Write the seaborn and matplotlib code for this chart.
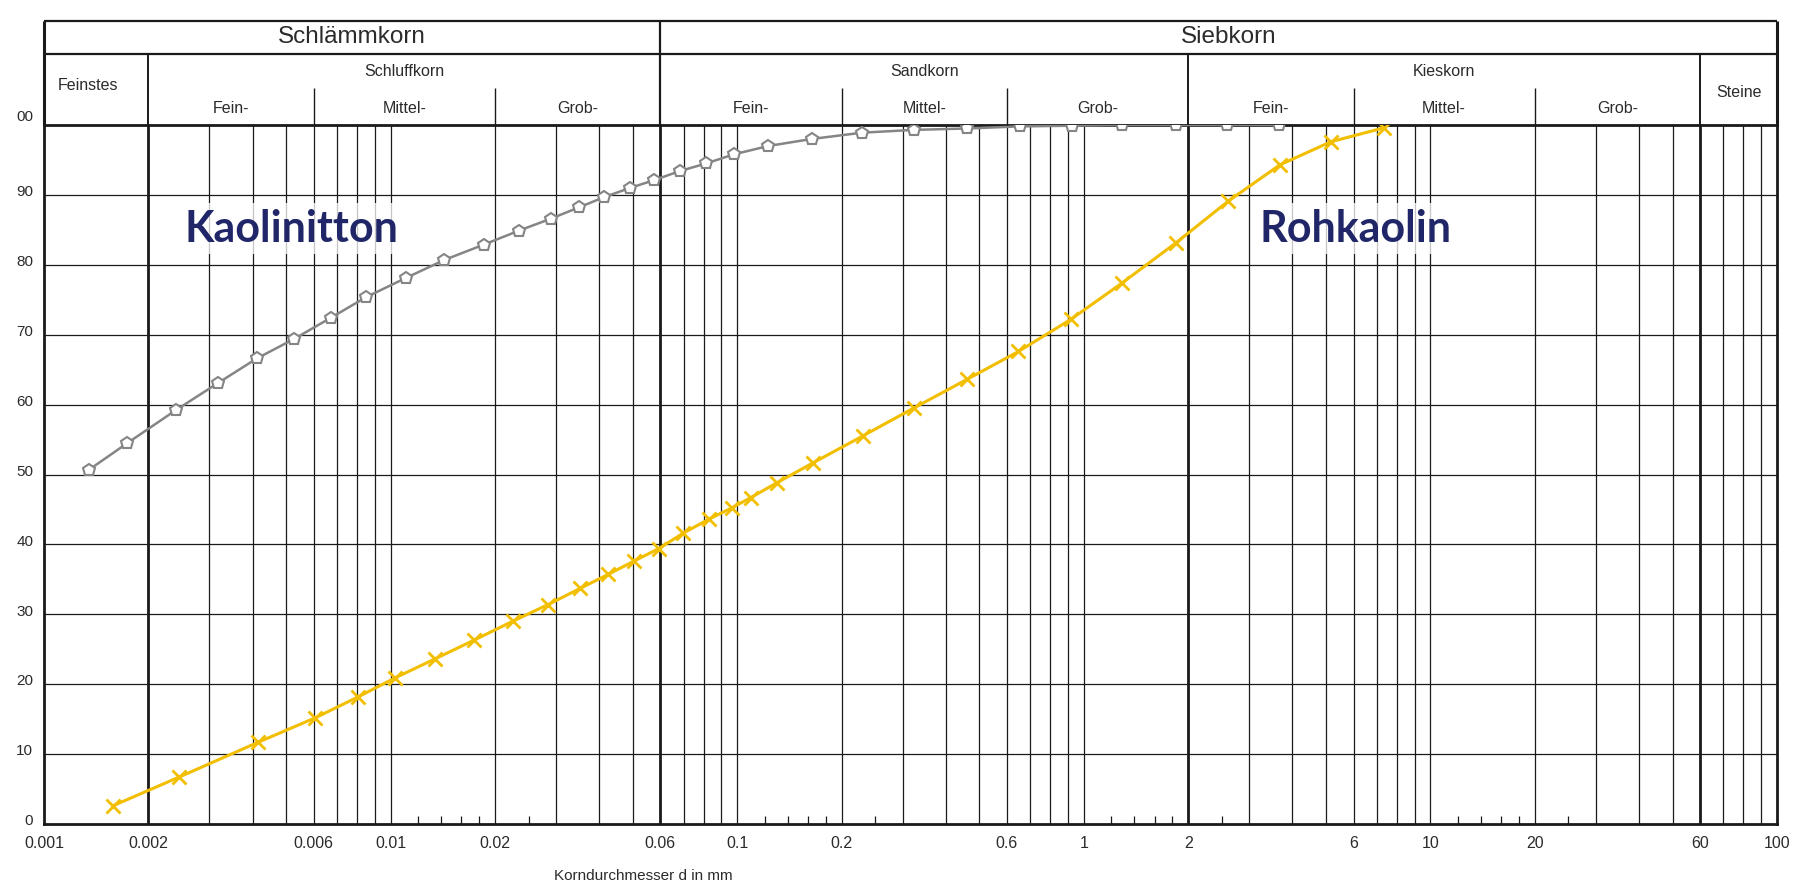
import numpy as np
import seaborn as sns
import matplotlib.pyplot as plt
from matplotlib.ticker import NullLocator

# Sieblinie: grain diameter (mm) vs. passing (%)
kaolinitton_d = [0.00135, 0.00174, 0.0024, 0.00318, 0.00411, 0.00527, 0.00671, 0.00852,
                 0.01105, 0.0143, 0.0186, 0.0235, 0.029, 0.0349, 0.0414, 0.0491, 0.0575,
                 0.0682, 0.0814, 0.0978, 0.123, 0.164, 0.229, 0.323, 0.46, 0.653, 0.924,
                 1.29, 1.84, 2.59, 3.65]
kaolinitton_p = [50.7, 54.5, 59.2, 63.1, 66.6, 69.4, 72.4, 75.4, 78.1, 80.7, 82.9, 84.9,
                 86.6, 88.2, 89.7, 91.0, 92.1, 93.4, 94.5, 95.8, 97.0, 98.0, 98.9, 99.3,
                 99.5, 99.8, 99.9, 100, 100, 100, 100]

rohkaolin_d = [0.00158, 0.00245, 0.00415, 0.00607, 0.00807, 0.0103, 0.0134, 0.0174,
               0.0225, 0.0285, 0.0352, 0.0424, 0.0503, 0.0594, 0.0698, 0.0828, 0.0963,
               0.1095, 0.130, 0.166, 0.230, 0.323, 0.460, 0.648, 0.918, 1.29, 1.84,
               2.61, 3.68, 5.16, 7.35]
rohkaolin_p = [2.6, 6.7, 11.7, 15.2, 18.2, 20.9, 23.6, 26.3, 29.0, 31.4, 33.7, 35.7,
               37.6, 39.4, 41.6, 43.6, 45.2, 46.7, 48.8, 51.7, 55.5, 59.5, 63.6, 67.6,
               72.2, 77.4, 83.1, 89.1, 94.3, 97.6, 99.6]

x_ticks = [0.001, 0.002, 0.006, 0.01, 0.02, 0.06, 0.1, 0.2, 0.6, 1, 2, 6, 10, 20, 60, 100]
x_labels = ["0.001", "0.002", "0.006", "0.01", "0.02", "0.06", "0.1", "0.2", "0.6",
            "1", "2", "6", "10", "20", "60", "100"]
y_ticks = [0, 10, 20, 30, 40, 50, 60, 70, 80, 90, 100]
y_labels = ["0", "10", "20", "30", "40", "50", "60", "70", "80", "90", "00"]

# header classification (DIN 4022 style)
main_bands = [("Schlämmkorn", 0.001, 0.06), ("Siebkorn", 0.06, 100)]
group_bands = [("Feinstes", 0.001, 0.002), ("Schluffkorn", 0.002, 0.06),
               ("Sandkorn", 0.06, 2), ("Kieskorn", 2, 60), ("Steine", 60, 100)]
sub_bands = [("Fein-", 0.002, 0.006), ("Mittel-", 0.006, 0.02), ("Grob-", 0.02, 0.06),
             ("Fein-", 0.06, 0.2), ("Mittel-", 0.2, 0.6), ("Grob-", 0.6, 2),
             ("Fein-", 2, 6), ("Mittel-", 6, 20), ("Grob-", 20, 60)]

sns.set_theme(style="white")
plt.rcParams["font.family"] = ["Liberation Sans", "DejaVu Sans"]

line_c = "#1a1a1a"
text_c = "#2b2b2b"
gray_c = "#858585"
yellow_c = "#F2BE00"
navy_c = "#202668"

W, H = 1800, 885
fig = plt.figure(figsize=(W / 100, H / 100), dpi=100)
fig.patch.set_facecolor("white")

x0, x1 = 44, 1777
y_top, y_bot, y_head = 125, 824, 21
ax = fig.add_axes([x0 / W, (H - y_bot) / H, (x1 - x0) / W, (y_bot - y_top) / H])
hax = fig.add_axes([x0 / W, (H - y_top) / H, (x1 - x0) / W, (y_top - y_head) / H])

# ---- main grid ----
ax.set_xscale("log")
ax.set_xlim(0.001, 100)
ax.set_ylim(0, 100)
thick = [0.002, 0.06, 2, 60]
for base in [0.001, 0.01, 0.1, 1, 10]:
    for m in range(2, 10 if base == 10 else 11):
        v = base * m
        is_thick = any(np.isclose(v, t) for t in thick)
        ax.axvline(v, color=line_c, lw=2.0 if is_thick else 0.9, zorder=1)
    if base >= 0.01:
        ax.vlines([base * m for m in [1.2, 1.4, 1.6, 1.8, 2.5]], 0, 1.1,
                  color=line_c, lw=0.9, zorder=1)
for v in y_ticks[1:-1]:
    ax.axhline(v, color=line_c, lw=0.9, zorder=1)
for s in ax.spines.values():
    s.set_color(line_c)
    s.set_linewidth(2.0)
    s.set_visible(True)

ax.xaxis.set_minor_locator(NullLocator())
ax.set_xticks(x_ticks, x_labels)
ax.tick_params(axis="x", length=0, pad=9, labelsize=11.5, labelcolor=text_c)
ax.set_yticks([])
for v, lab in zip(y_ticks, y_labels):
    ax.text(-0.0062, v + (1.2 if v == 100 else 0.4), lab, transform=ax.get_yaxis_transform(),
            ha="right", va="center", fontsize=11, color=text_c)
ax.set_xlabel("")
ax.set_ylabel("")

# ---- curves ----
sns.lineplot(x=kaolinitton_d, y=kaolinitton_p, ax=ax, sort=False, color=gray_c,
             lw=1.8, marker="p", markersize=9, markerfacecolor="white",
             markeredgecolor=gray_c, markeredgewidth=1.5, zorder=3)
sns.lineplot(x=rohkaolin_d, y=rohkaolin_p, ax=ax, sort=False, color=yellow_c,
             lw=2.2, marker="x", markersize=10, markeredgecolor=yellow_c,
             markeredgewidth=2.0, zorder=3)

box = dict(facecolor="white", alpha=0.75, edgecolor="none", pad=4)
ax.text(0.00254, 83.3, "Kaolinitton", ha="left", va="baseline", fontsize=31,
        fontweight="bold", family=["Lato", "DejaVu Sans"], color=navy_c, bbox=box, zorder=2)
ax.text(3.22, 83.3, "Rohkaolin", ha="left", va="baseline", fontsize=31,
        fontweight="bold", family=["Lato", "DejaVu Sans"], color=navy_c, bbox=box, zorder=2)

fig.text(643 / W, (H - 876) / H, "Korndurchmesser d in mm", ha="center", va="center",
         fontsize=11, color=text_c)

# ---- header ----
hax.set_xscale("log")
hax.set_xlim(0.001, 100)
hax.set_ylim(0, 1)
hax.axis("off")
y_mid_line, y_sub_line = 0.683, 0.356
hax.hlines([1.0, y_mid_line], 0.001, 100, color=line_c, lw=1.6, clip_on=False)
hax.vlines([0.001, 100], 0, 1, color=line_c, lw=2.2, clip_on=False)
hax.vlines([b[2] for b in main_bands[:-1]], 0, 1, color=line_c, lw=1.6, clip_on=False)
hax.vlines([b[2] for b in group_bands[:-1] if b[2] not in [m[2] for m in main_bands]],
           0, y_mid_line, color=line_c, lw=1.4, clip_on=False)
hax.vlines([b[2] for b in sub_bands if b[2] not in [g[2] for g in group_bands]],
           0, y_sub_line, color=line_c, lw=1.0, clip_on=False)

for lab, lo, hi in main_bands:
    hax.text(np.sqrt(lo * hi) * (1.07 if lab == "Siebkorn" else 1.0), 0.85, lab,
             ha="center", va="center", fontsize=17.5, color=text_c)
for lab, lo, hi in group_bands:
    yy, xx = 0.519, np.sqrt(lo * hi)
    if lab == "Feinstes":
        yy, xx = 0.375, xx * 0.95
    elif lab == "Steine":
        yy = 0.317
    hax.text(xx, yy, lab, ha="center", va="center", fontsize=11.5, color=text_c)
for lab, lo, hi in sub_bands:
    hax.text(np.sqrt(lo * hi), 0.154, lab, ha="center", va="center", fontsize=11.5, color=text_c)

fig.savefig("out.png", dpi=100, facecolor="white")
